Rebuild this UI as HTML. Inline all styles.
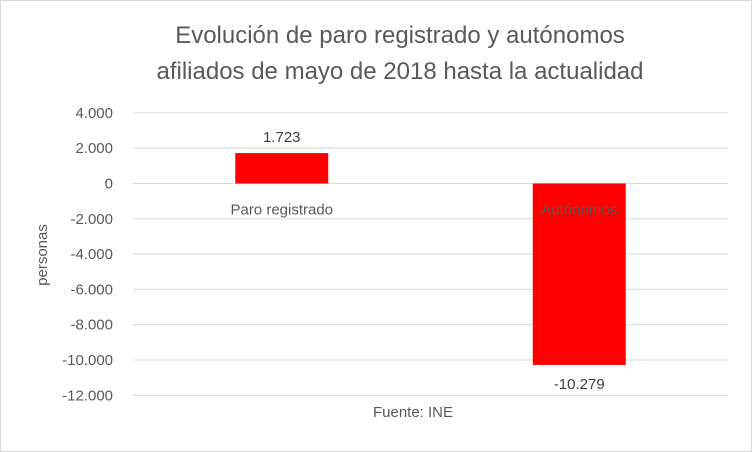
<!DOCTYPE html>
<html><head><meta charset="utf-8"><style>
body{margin:0;background:#fff;}
svg{display:block;font-family:"Liberation Sans",sans-serif;}
</style></head><body>
<svg width="752" height="452">
<rect x="0.5" y="0.5" width="751" height="451" fill="#fff" stroke="#d9d9d9"/>
<text x="400" y="43" text-anchor="middle" font-size="24" fill="#595959">Evolución de paro registrado y autónomos</text>
<text x="400" y="79" text-anchor="middle" font-size="24" fill="#595959">afiliados de mayo de 2018 hasta la actualidad</text>
<text transform="translate(47,255) rotate(-90)" text-anchor="middle" font-size="15" fill="#595959">personas</text>
<text x="413" y="417" text-anchor="middle" font-size="15" fill="#595959">Fuente: INE</text>
<g id="grid"></g><g id="bars"></g><g id="labels"></g>
</svg>
<script>
const categories=["Paro registrado","Autónomos"];
const values=[1723,-10279];
const valueLabels=["1.723","-10.279"];
const ticks=[4000,2000,0,-2000,-4000,-6000,-8000,-10000,-12000];
const tickLabels=["4.000","2.000","0","-2.000","-4.000","-6.000","-8.000","-10.000","-12.000"];
const NS="http://www.w3.org/2000/svg";
const L=133,R=728,y0=183.5,per=35.3/2000;
const y=v=>y0-v*per;
const band=(R-L)/categories.length;
const cx=i=>L+band*(i+0.5);
function mk(t,a,p){const e=document.createElementNS(NS,t);for(const k in a)e.setAttribute(k,a[k]);document.getElementById(p).appendChild(e);return e;}
ticks.forEach((t,i)=>{
 const g=mk("line",{x1:L,x2:R,y1:y(t),y2:y(t),stroke:"#d9d9d9","stroke-width":1},"grid");
 
 
 const tx=mk("text",{x:113,y:y(t)+5,"text-anchor":"end","font-size":15,fill:"#595959"},"grid");
 tx.textContent=tickLabels[i];
 
 
});
const bw=93;
values.forEach((v,i)=>{
 const b=mk("rect",{x:cx(i)-bw/2,y:Math.min(y(v),y(0)),width:bw,height:Math.abs(y(v)-y(0)),fill:"#ff0000"},"bars");
 
 
 const vl=mk("text",{x:cx(i),y:v>=0?y(v)-11:y(v)+24,"text-anchor":"middle","font-size":15,fill:"#404040"},"labels");
 vl.textContent=valueLabels[i];
 
 
 const cl=mk("text",{x:cx(i),y:y(0)+31,"text-anchor":"middle","font-size":15,fill:"#595959"},"labels");
 cl.textContent=categories[i];
 
 
});
</script>
</body></html>
